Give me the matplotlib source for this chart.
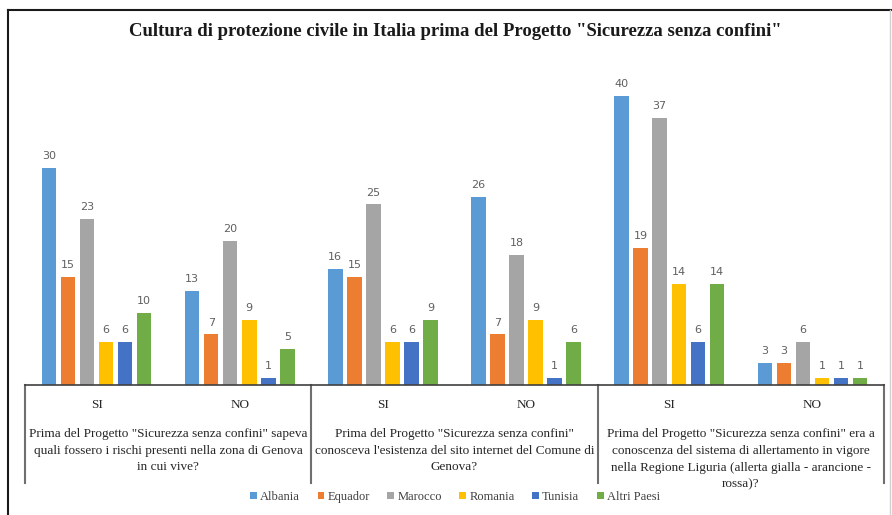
import matplotlib.pyplot as plt
import matplotlib.transforms as mtransforms
from matplotlib.lines import Line2D
import numpy as np

# Survey answers per country, one value per (question, answer) column
answers = ["SI", "NO", "SI", "NO", "SI", "NO"]
countries = ["Albania", "Equador", "Marocco", "Romania", "Tunisia", "Altri Paesi"]
albania = [30, 13, 16, 26, 40, 3]
equador = [15, 7, 15, 7, 19, 3]
marocco = [23, 20, 25, 18, 37, 6]
romania = [6, 9, 6, 9, 14, 1]
tunisia = [6, 1, 6, 1, 6, 1]
altri = [10, 5, 9, 6, 14, 1]
series = [albania, equador, marocco, romania, tunisia, altri]
colors = ["#5B9BD5", "#ED7D31", "#A5A5A5", "#FFC000", "#4472C4", "#70AD47"]

questions = [
    'Prima del Progetto "Sicurezza senza confini" sapeva\n'
    'quali fossero i rischi presenti nella zona di Genova\n'
    'in cui vive?',
    'Prima del Progetto "Sicurezza senza confini"\n'
    "conosceva l'esistenza del sito internet del Comune di\n"
    'Genova?',
    'Prima del Progetto "Sicurezza senza confini" era a\n'
    'conoscenza del sistema di allertamento in vigore\n'
    'nella Regione Liguria (allerta gialla - arancione -\n'
    'rossa)?',
]

title = 'Cultura di protezione civile in Italia prima del Progetto "Sicurezza senza confini"'

serif = "Liberation Serif"
W, H = 892, 515
fig = plt.figure(figsize=(W / 100, H / 100), dpi=100)
ax = fig.add_axes([25 / W, 130 / H, 859 / W, 325 / H])

x = np.arange(len(answers))
pitch = 0.133
width = 0.101
for i, (name, vals, col) in enumerate(zip(countries, series, colors)):
    pos = x + (i - 2.5) * pitch
    bars = ax.bar(pos, vals, width, color=col, label=name)
    for b, v in zip(bars, vals):
        ax.annotate(str(v), (b.get_x() + b.get_width() / 2, v),
                    xytext=(0, 5), textcoords="offset points",
                    ha="center", va="bottom", fontsize=8,
                    family="DejaVu Sans", color="#606060")

ax.set_xlim(-0.5, 5.5)
ax.set_ylim(0, 45)
ax.set_xticks([])
ax.set_yticks([])
for s in ["top", "right", "left"]:
    ax.spines[s].set_visible(False)
ax.spines["bottom"].set_color("#404040")
ax.spines["bottom"].set_linewidth(1.2)

# multi-level category axis below the bars
trans = mtransforms.blended_transform_factory(ax.transData, ax.transAxes)
def ypx(py):
    return -(py - 385) / 325

for xs in [-0.5, 1.5, 3.5, 5.5]:
    ax.add_line(Line2D([xs, xs], [0, ypx(483)], transform=trans,
                       color="#6f6f6f", lw=1.5, clip_on=False))

for xi, lab in zip(x, answers):
    ax.text(xi, ypx(405), lab, transform=trans, ha="center", va="center",
            family=serif, fontsize=9.5, color="#262626")

for qi, q in enumerate(questions):
    ax.text(2 * qi + 0.5, ypx(428.5), q, transform=trans, ha="center", va="top",
            family=serif, fontsize=9.5, color="#262626", linespacing=1.5)

fig.text(455 / W, 1 - 32 / H, title, ha="center", va="center",
         family=serif, fontsize=13.5, fontweight="bold", color="#1a1a1a")

leg = fig.legend(loc="center", bbox_to_anchor=(455 / W, 1 - 497 / H), ncol=6,
                 frameon=False, prop={"family": serif, "size": 9},
                 handlelength=0.55, handleheight=0.55, handletextpad=0.25,
                 columnspacing=1.4, labelcolor="#404040")

# frame around the chart
fig.add_artist(Line2D([8 / W, 8 / W], [0, 1 - 10 / H], color="#1a1a1a", lw=1.5))
fig.add_artist(Line2D([8 / W, 1], [1 - 10 / H, 1 - 10 / H], color="#1a1a1a", lw=1.5))
fig.add_artist(Line2D([890 / W, 890 / W], [0, 1 - 10 / H], color="#d0d0d0", lw=1))

fig.savefig("out.png", dpi=100)
